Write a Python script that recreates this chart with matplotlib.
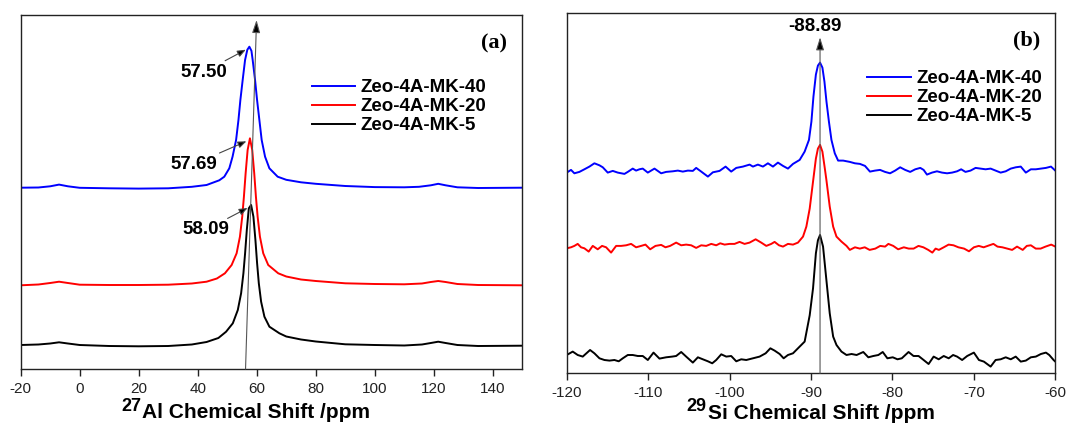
import matplotlib
matplotlib.use("Agg")
import matplotlib.pyplot as plt

plt.rcParams['font.family'] = ['Liberation Sans', 'DejaVu Sans']

# ---------------- data ----------------
samples = ["Zeo-4A-MK-40", "Zeo-4A-MK-20", "Zeo-4A-MK-5"]
colors = ["#0000FF", "#FF0000", "#000000"]

# 27Al MAS NMR (chemical shift in ppm, intensity in arbitrary units above baseline)
al_shift_mk40 = [-20, -14, -10, -7, -4, 0, 10, 20, 30, 38, 43, 47.3, 49.0, 50.7, 51.8,
                 53.0, 53.8, 54.45, 55.23, 56.04, 56.8, 57.50, 58.2, 58.62, 59.43,
                 60.11, 60.89, 61.67, 62.82, 64.28, 67.09, 70, 75, 80, 90, 100, 110,
                 115, 119, 121.5, 124, 128, 135, 150]
al_int_mk40 = [0.6, 0.8, 2.0, 3.7, 2.0, 0.5, 0.0, -0.3, 0.0, 1.5, 3.3, 8.0, 11.6, 20.0, 31.6,
               48.3, 68.3, 88.3, 108.3, 128.3, 138.5, 141.6, 137.5, 128.3, 108.3,
               88.3, 68.3, 48.3, 31.6, 20.0, 11.6, 8.5, 6.0, 4.5, 2.3, 1.2, 1.0,
               1.5, 3.0, 4.5, 3.0, 1.0, 0.3, 0.6]

al_shift_mk20 = [-20, -14, -10, -7, -4, 0, 10, 20, 30, 38, 43, 46.5, 49.21, 51.49, 53.18,
                 54.30, 55.08, 55.65, 56.23, 56.91, 57.69, 58.47, 59.15, 59.72, 60.30,
                 61.08, 62.20, 63.89, 67.28, 70, 75, 80, 90, 100, 110, 116, 119, 121.5,
                 124, 128, 135, 150]
al_int_mk20 = [-0.3, 0.5, 2.0, 3.3, 2.0, 0.3, 0.0, 0.0, 0.3, 1.5, 3.3, 6.5, 11.7, 20.0, 31.7,
               48.3, 68.3, 88.3, 111.7, 135.0, 146.7, 135.0, 111.7, 88.3, 68.3,
               48.3, 31.7, 20.0, 11.7, 8.5, 5.5, 4.0, 1.7, 1.0, 0.7, 1.5, 3.0, 4.0,
               3.0, 1.0, 0.0, -0.3]

al_shift_mk5 = [-20, -14, -10, -7, -4, 0, 10, 20, 30, 38, 43, 47, 49.61, 51.89, 53.58,
                54.70, 55.48, 56.05, 56.63, 57.31, 58.09, 58.87, 59.55, 60.12, 60.70,
                61.48, 62.60, 64.29, 67.68, 70, 75, 80, 90, 100, 110, 116, 119, 121.5,
                124, 128, 135, 150]
al_int_mk5 = [1.0, 1.5, 2.5, 3.7, 2.5, 1.0, 0.0, -0.3, 0.0, 1.5, 4.0, 8.0, 14.3, 22.7, 36.0,
              52.7, 72.7, 92.7, 116.0, 137.7, 141.0, 129.3, 106.0, 82.7, 62.7,
              44.3, 29.3, 19.3, 12.7, 9.5, 6.5, 4.5, 1.7, 1.0, 0.5, 1.5, 3.0, 4.3,
              3.0, 1.0, 0.0, 0.3]

al_peak_labels = [57.50, 57.69, 58.09]

# 29Si MAS NMR
si_shift_mk40 = [
    -120.0, -119.47, -119.06, -118.44, -117.83, -117.21, -116.60, -115.98, -115.57, -114.96,
    -114.34, -113.73, -112.91, -112.50, -111.89, -111.48, -111.07, -110.66, -110.04, -109.22,
    -108.40, -107.79, -106.97, -106.35, -105.74, -105.12, -104.51, -104.10, -103.48, -102.66,
    -102.05, -101.23, -100.49, -99.80, -99.18, -98.36, -97.54, -97.13, -96.52, -95.90,
    -95.29, -94.67, -94.06, -93.44, -92.83, -92.21, -91.39, -90.78, -90.25, -89.95,
    -89.70, -89.40, -89.15, -88.89, -88.60, -88.35, -88.10, -87.80, -87.49, -87.08,
    -86.67, -86.05, -85.23, -84.61, -83.99, -83.37, -82.76, -82.14, -81.52, -80.91,
    -80.29, -79.67, -79.05, -78.44, -77.82, -77.20, -76.58, -76.17, -75.76, -75.14,
    -74.53, -73.91, -73.29, -72.67, -72.06, -71.56, -71.03, -70.41, -69.79, -69.18,
    -68.56, -67.94, -67.33, -66.71, -66.09, -65.47, -64.86, -64.24, -63.62, -63.00,
    -62.39, -61.77, -61.15, -60.53, -60.0]
si_int_mk40 = [
    -1.0, 1.7, -1.7, -0.3, 2.3, 5.0, 8.3, 6.3, 4.3, -1.0,
    0.7, -1.0, -2.3, -0.3, 3.0, 1.0, 2.3, 3.0, -1.0, 3.0,
    -1.7, -0.3, 0.3, 1.0, 0.0, 1.0, 0.7, 3.7, 0.0, -5.0,
    -0.7, 0.7, 5.0, 0.0, 3.7, 5.0, 7.0, 5.0, 7.0, 5.0,
    8.3, 5.0, 9.0, 5.7, 3.0, 7.7, 11.7, 20.0, 31.7, 50.0,
    75.0, 97.0, 106.0, 109.0, 104.0, 90.0, 70.0, 50.0, 31.7, 18.3,
    11.0, 11.0, 9.7, 8.3, 7.7, 5.7, 0.0, 1.0, 1.7, -0.3,
    -1.7, 1.0, 4.3, 1.7, -0.3, 2.3, 3.7, 1.7, -3.0, -1.0,
    0.3, -1.0, -1.7, -1.0, 0.3, 2.3, -0.3, 1.0, 3.7, 3.0,
    2.3, 3.0, 1.0, -1.0, 0.3, 3.0, 4.3, 5.0, -1.0, 2.3,
    2.3, 3.0, 3.7, 5.0, 1.0]

si_shift_mk20 = [
    -120.0, -119.47, -119.06, -118.65, -118.24, -117.83, -117.30, -116.80, -116.19, -115.66,
    -115.16, -114.55, -113.93, -113.32, -112.70, -112.09, -111.48, -110.86, -110.33, -109.75,
    -109.10, -108.40, -107.87, -107.30, -106.56, -105.94, -105.33, -104.71, -104.10, -103.48,
    -102.87, -102.25, -101.64, -101.15, -100.61, -100.00, -99.39, -98.77, -98.16, -97.54,
    -96.80, -96.11, -95.49, -94.88, -94.47, -93.93, -93.44, -92.83, -92.21, -91.60,
    -90.98, -90.57, -90.16, -89.75, -89.40, -89.15, -88.89, -88.60, -88.30, -88.11,
    -87.70, -87.28, -86.87, -86.26, -85.64, -85.23, -84.60, -84.00, -83.40, -82.80,
    -82.10, -81.50, -80.90, -80.50, -79.90, -79.30, -78.60, -78.00, -77.40, -76.80,
    -76.20, -75.60, -75.10, -74.70, -74.30, -73.70, -73.10, -72.50, -71.90, -71.20,
    -70.60, -70.00, -69.40, -68.80, -68.10, -67.60, -67.10, -66.50, -65.90, -65.30,
    -64.70, -64.00, -63.50, -63.00, -62.40, -61.80, -61.20, -60.50, -60.00]
si_int_mk20 = [
    -1.7, -0.7, 0.7, 2.7, -0.7, -1.7, -5.0, 0.7, -2.7, 0.7,
    -0.7, -6.0, 0.7, 0.7, 1.3, 2.7, -0.7, 0.7, 2.0, -2.7,
    0.7, 1.7, -0.7, 0.7, 4.0, 1.3, 2.0, 1.3, -1.3, 1.3,
    0.7, 2.7, 1.3, 3.3, 2.0, 2.7, 2.7, 4.7, 2.7, 4.0,
    7.3, 4.0, 0.7, 2.7, 4.7, 1.3, 0.0, 2.7, 2.0, 4.0,
    10.0, 20.0, 38.0, 65.0, 88.0, 98.0, 101.7, 95.0, 78.0, 66.7,
    40.0, 20.0, 10.0, 5.0, 0.7, -3.3, -0.7, -2.0, -0.7, -3.3,
    -2.0, 0.7, 0.0, 2.7, 0.7, -2.7, -0.7, -2.0, -2.0, 0.7,
    -0.7, -3.3, -6.0, -2.0, -3.3, -0.7, 2.0, 1.3, -0.7, -2.0,
    -4.7, -0.7, 0.7, -0.7, 1.3, 2.7, 0.0, -0.7, -2.0, -3.3,
    0.0, -3.3, 0.7, 1.3, -2.0, -2.0, 0.0, 2.0, 0.0]

si_shift_mk5 = [
    -120.0, -119.26, -118.65, -118.03, -117.13, -116.60, -115.98, -115.37, -114.75, -114.14,
    -113.61, -113.11, -112.50, -111.89, -111.27, -110.66, -110.04, -109.34, -108.61, -107.79,
    -107.05, -106.56, -105.94, -105.33, -104.51, -103.89, -103.28, -102.66, -102.13, -101.64,
    -101.02, -100.41, -99.80, -99.18, -98.57, -97.95, -97.13, -96.31, -95.57, -94.99,
    -94.47, -93.85, -93.36, -92.83, -92.21, -91.60, -90.78, -90.16, -89.75, -89.40,
    -89.15, -88.89, -88.52, -88.11, -87.70, -87.28, -86.87, -86.26, -85.64, -85.02,
    -84.40, -83.58, -82.96, -82.35, -81.73, -81.19, -80.62, -79.96, -79.38, -78.85,
    -78.02, -77.41, -76.79, -76.17, -75.56, -74.94, -74.32, -73.70, -73.09, -72.55,
    -72.06, -71.44, -70.82, -70.00, -69.38, -68.77, -67.94, -67.33, -66.71, -66.09,
    -65.47, -64.86, -64.24, -63.62, -63.00, -62.39, -61.77, -61.15, -60.74, -60.21,
    -60.00]
si_int_mk5 = [
    3.3, 6.7, 3.3, 1.7, 8.3, 5.0, 0.0, -1.7, -2.3, -1.7,
    -3.0, 0.0, 3.3, 3.3, 2.3, 2.3, -1.7, 5.7, -0.3, 1.0,
    1.7, 2.3, 6.3, 1.7, -4.3, 1.0, -1.0, -3.0, -5.0, -1.7,
    4.0, 1.7, 2.3, -3.0, -1.0, -1.7, 0.0, 1.7, 5.0, 10.0,
    7.7, 4.3, 0.0, 3.3, 5.0, 10.0, 16.7, 43.0, 70.0, 105.0,
    118.0, 123.3, 111.7, 78.3, 45.0, 21.7, 13.3, 6.7, 3.3, 4.3,
    3.3, 6.3, 1.0, 2.3, 3.3, 6.3, 0.0, 1.0, -1.0, 0.0,
    6.3, 2.3, 2.3, -1.7, -5.7, 1.7, -1.0, 2.3, 0.0, 3.3,
    1.7, -1.7, 2.3, 5.7, -1.7, -3.3, -8.3, -1.7, -1.0, 1.0,
    -1.0, 1.7, -3.3, -2.3, 1.0, 1.7, 4.3, 5.7, 3.3, -1.7,
    -3.3]

si_peak_label = -88.89

al_xticks = [-20, 0, 20, 40, 60, 80, 100, 120, 140]
si_xticks = [-120, -110, -100, -90, -80, -70, -60]

# vertical stacking of the spectra
al_offsets = [180.7, 84.0, 23.0]
si_offsets = [201.7, 126.7, 15.0]

# ---------------- figure ----------------
W, H = 1067, 423
fig = plt.figure(figsize=(W / 100, H / 100), dpi=100)


def px_axes(x0, y0, x1, y1):
    return fig.add_axes([x0 / W, 1 - y1 / H, (x1 - x0) / W, (y1 - y0) / H])


def px(x, y):
    return x / W, 1 - y / H


ax1 = px_axes(20.7, 15.0, 522.3, 369.0)
ax2 = px_axes(566.7, 13.3, 1055.3, 373.3)

lw_spec = 1.4
al_series = [(al_shift_mk40, al_int_mk40), (al_shift_mk20, al_int_mk20),
             (al_shift_mk5, al_int_mk5)]
si_series = [(si_shift_mk40, si_int_mk40), (si_shift_mk20, si_int_mk20),
             (si_shift_mk5, si_int_mk5)]

for (xs, ys), off, c, lab in zip(al_series, al_offsets, colors, samples):
    ax1.plot(xs, [v + off for v in ys], color=c, lw=lw_spec, label=lab)
for (xs, ys), off, c, lab in zip(si_series, si_offsets, colors, samples):
    ax2.plot(xs, [v + off for v in ys], color=c, lw=lw_spec, label=lab)

ax1.set_xlim(-20, 150)
ax1.set_ylim(0, 354)
ax2.set_xlim(-120, -60)
ax2.set_ylim(0, 360)
ax1.set_xticks(al_xticks)
ax1.set_xticklabels([str(t) for t in al_xticks])
ax2.set_xticks(si_xticks)
ax2.set_xticklabels([str(t) for t in si_xticks])

for ax in (ax1, ax2):
    ax.set_yticks([])
    ax.tick_params(axis='x', direction='out', length=5, width=1.0, pad=4,
                   labelsize=11, colors='#222222')
    for sp in ax.spines.values():
        sp.set_linewidth(1.0)
        sp.set_color('#222222')

leg_kw = dict(loc='upper left', frameon=False, borderpad=0, borderaxespad=0,
              handlelength=2.3, handletextpad=0.3, labelspacing=0.1,
              prop={'weight': 'bold', 'size': 13.5})
ax1.legend(bbox_to_anchor=((312 - 20.7) / 501.6, (369 - 79) / 354), **leg_kw)
ax2.legend(bbox_to_anchor=((867.4 - 566.7) / 488.6, (373.3 - 70) / 360), **leg_kw)

# panel letters
ax1.text(0.943, 0.92, "(a)", transform=ax1.transAxes, ha='center', va='center',
         family='Liberation Serif', weight='bold', fontsize=16)
ax2.text(0.942, 0.925, "(b)", transform=ax2.transAxes, ha='center', va='center',
         family='Liberation Serif', weight='bold', fontsize=16)

# peak position annotations on the 27Al spectra
arrow_small = dict(arrowstyle='-|>,head_length=0.5,head_width=0.2', fc='black',
                   ec='#444444', lw=0.8, shrinkA=0, shrinkB=0, mutation_scale=10)
label_shift = [(-15.4, -25.3), (-19.1, -26.0), (-15.3, -24.7)]
for peak, ys, off, (dx, dy) in zip(al_peak_labels, [s[1] for s in al_series],
                                   al_offsets, label_shift):
    top = off + max(ys)
    ax1.annotate(f"{peak:.2f}", xy=(peak - 1.2, top - 3), xytext=(peak + dx, top + dy),
                 ha='center', va='center', fontsize=13.5, weight='bold',
                 arrowprops=arrow_small)

arrow_long = dict(arrowstyle='-|>,head_length=0.7,head_width=0.22', fc='black',
                  ec='#555555', lw=0.8, shrinkA=0, shrinkB=0, mutation_scale=11)
ax1.annotate("", xy=(59.93, 349), xytext=(56.2, 0), arrowprops=arrow_long)
ax2.annotate("", xy=(si_peak_label, 336), xytext=(si_peak_label, 0),
             arrowprops=arrow_long)
ax2.text(si_peak_label - 0.57, 346.6, f"{si_peak_label:.2f}", ha='center',
         va='center', fontsize=13.5, weight='bold')

# axis titles with isotope mass numbers
fig.text(*px(121.0, 410.5), "27", fontsize=13, weight='bold', va='baseline', ha='left')
fig.text(*px(141.5, 418.3), "Al Chemical Shift /ppm", fontsize=15, weight='bold',
         va='baseline', ha='left')
fig.text(*px(686.7, 411.0), "29", fontsize=13, weight='bold', va='baseline', ha='left')
fig.text(*px(707.5, 419.0), "Si Chemical Shift /ppm", fontsize=15, weight='bold',
         va='baseline', ha='left')

fig.savefig("out.png", dpi=100)
